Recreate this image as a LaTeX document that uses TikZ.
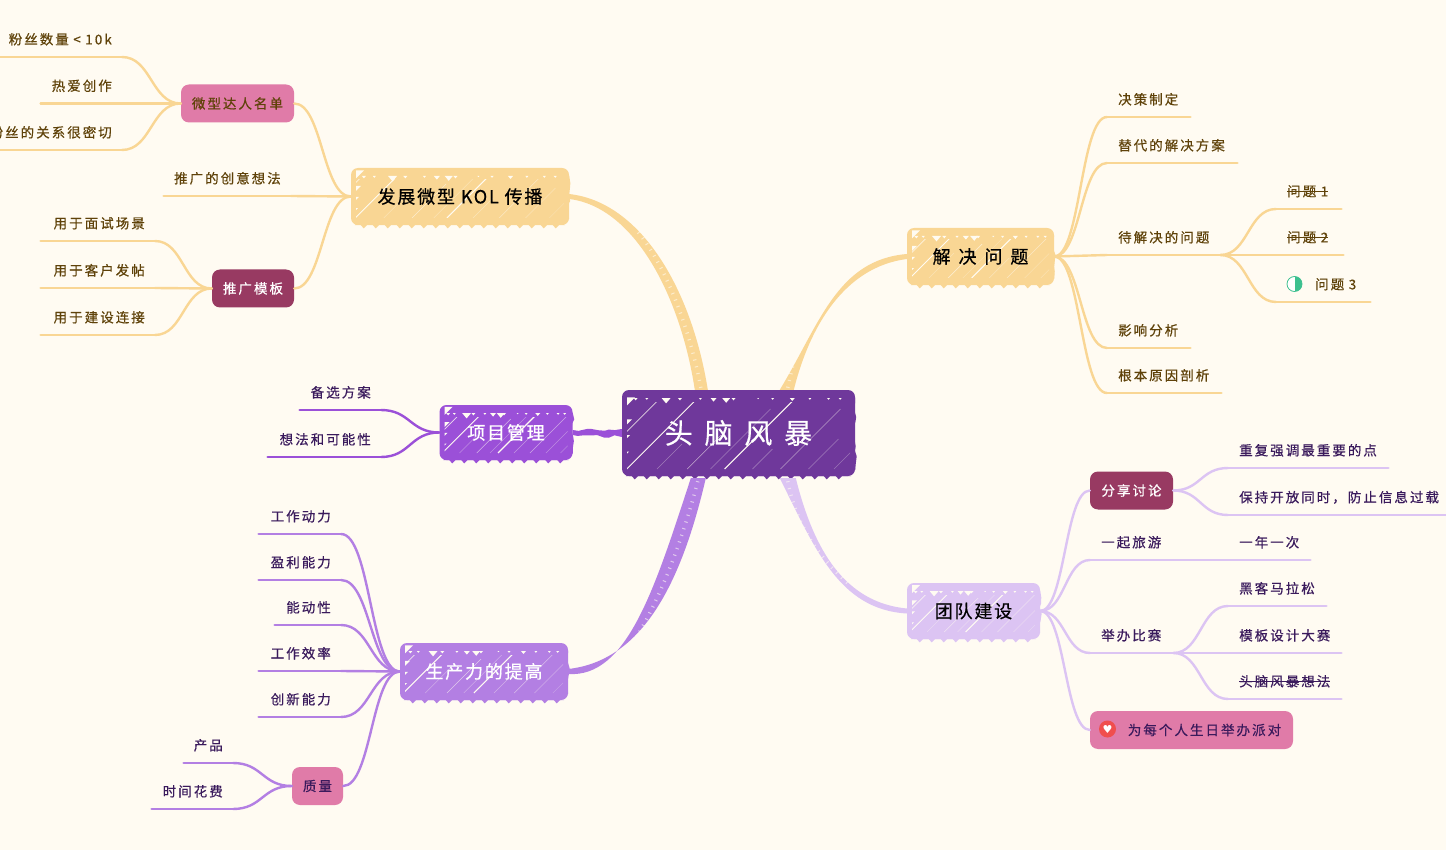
\documentclass[tikz,border=0pt]{standalone}
\usepackage{fontspec}
\usepackage{xcolor}
\setmainfont{Noto Sans CJK SC}[FakeBold=0.5]
\newfontfamily\symbolfont{DejaVu Sans}
\usetikzlibrary{positioning,calc,decorations.pathmorphing}
\definecolor{bgcream}{HTML}{FFFBF2}
\definecolor{rootpurple}{HTML}{6F389B}
\definecolor{midpurple}{HTML}{9B50D8}
\definecolor{softpurple}{HTML}{B37FE3}
\definecolor{palepurple}{HTML}{DCC4F3}
\definecolor{softyellow}{HTML}{F9D694}
\definecolor{tagpink}{HTML}{E07BA8}
\definecolor{tagmaroon}{HTML}{983A62}
\definecolor{inkbrown}{HTML}{5F4209}
\definecolor{inkpurple}{HTML}{3A1A5C}
\definecolor{halfgreen}{HTML}{3CC08F}
\definecolor{heartred}{HTML}{F04E4E}
\newcommand{\strikeit}[1]{\setbox0\hbox{#1}\rlap{\rule[0.32em]{\wd0}{1.1pt}}\box0}
\newcommand{\leaffont}{\fontsize{13.5}{16}\selectfont\addfontfeature{LetterSpace=15}}
\newcommand{\boxfont}{\fontsize{18}{22}\selectfont\addfontfeature{LetterSpace=10}}
\newcommand{\limb}[3]{\draw[#1, thinline] (#2) .. controls ($(#2)!0.5!(#2 -| #3)$) and ($(#3)!0.5!(#3 -| #2)$) .. (#3);}
\tikzset{
  hatched/.style={path picture={
    \begin{scope}[sharp corners]
    \begin{scope}
    \clip ($(path picture bounding box.south west)+(5,-7)$) rectangle ($(path picture bounding box.north east)+(-5,12)$);
    \foreach \f/\o/\w/\l in {0.02/1/0.9/90,0.15/0.35/0.5/25,0.28/0.6/0.6/34,0.44/1/1.1/90,0.38/0.35/0.5/60,0.56/0.4/0.5/20,0.68/0.5/0.6/60,0.80/0.35/0.5/30,0.91/0.3/0.5/20,-0.14/0.8/0.7/90}
      \draw[bgcream, opacity=\o, line width=\w pt] ($(path picture bounding box.south west)!\f!(path picture bounding box.south east)+(0,-7)$) -- ++(\l,-\l);
    \end{scope}
    \foreach \f/\s in {0.05/4,0.10/3,0.17/9,0.24/4,0.33/3,0.38/6,0.43/8,0.47/4,0.58/2,0.64/3,0.72/5,0.80/3,0.88/3,0.93/3}
      \fill[bgcream] ($(path picture bounding box.north west)!\f!(path picture bounding box.north east)+(0,8)$) -- ++(\s,0) -- ++(-0.5*\s,0.6*\s) -- cycle;
    \foreach \f/\s in {0.18/8,0.40/5,0.56/3,0.74/2}
      \fill[bgcream] ($(path picture bounding box.north west)!\f!(path picture bounding box.south west)+(5,0)$) -- ++(\s,-\s) -- ++(-\s,0) -- cycle;
    \end{scope}}},
  sketchbox/.style={rounded corners=7pt, inner sep=0pt, hatched},
  plainbox/.style={rounded corners=8pt, inner sep=0pt, minimum height=38, font=\leaffont},
  teeth/.style={decorate, decoration={zigzag,segment length=12pt,amplitude=3.2pt}},
  rough/.style={decorate, decoration={random steps,segment length=6pt,amplitude=1.6pt}},
  rightleaf/.style={anchor=south west, inner ysep=0pt, inner xsep=11pt, minimum height=35, align=left, font=\leaffont},
  leftleaf/.style={anchor=south east, inner ysep=0pt, inner xsep=10pt, minimum height=35, align=right, font=\leaffont},
  thinline/.style={line width=2.4pt, line cap=round},
  speckle/.style={bgcream, opacity=0.6, line width=3.5pt, dash pattern=on 1pt off 6pt}
}
\begin{document}
\begin{tikzpicture}[x=1pt, y=-1pt]
\useasboundingbox (0,0) rectangle (1446,850);
\fill[bgcream] (0,0) rectangle (1446,850);

% big boxes
\node[sketchbox, fill=rootpurple, minimum width=233, minimum height=86, text=white, font=\fontsize{28}{32}\selectfont\addfontfeature{LetterSpace=42}] (root) at (738.5,433) {头脑风暴};
\node[sketchbox, fill=softyellow, minimum width=218, minimum height=57, text=black, font=\boxfont] (promo) at (460,196.5) {发展微型 KOL 传播};
\node[sketchbox, fill=softyellow, minimum width=147, minimum height=57, text=black, font=\fontsize{18}{22}\selectfont\addfontfeature{LetterSpace=44}] (solve) at (980.5,256.5) {解决问题};
\node[sketchbox, fill=palepurple, minimum width=133, minimum height=56, text=black, font=\boxfont] (team) at (973.5,611) {团队建设};
\node[sketchbox, fill=midpurple, minimum width=133, minimum height=55, text=white, font=\boxfont] (pm) at (506,432.5) {项目管理};
\node[sketchbox, fill=softpurple, minimum width=168, minimum height=57, text=white, font=\boxfont] (prod) at (484,671.5) {生产力的提高};
\foreach \nm/\col in {root/rootpurple,promo/softyellow,solve/softyellow,team/palepurple,pm/midpurple,prod/softpurple} {
  \fill[\col, teeth] ($(\nm.south west)+(4,0)$) -- ($(\nm.south east)+(-4,0)$);
  \fill[\col, rough] ($(\nm.north east)+(0,8)$) -- ($(\nm.south east)+(0,-6)$) -- ($(\nm.south east)+(-4,-6)$) -- ($(\nm.north east)+(-4,8)$) -- cycle;
}

% small tags
\node[plainbox, fill=tagpink, minimum width=113, text=inkbrown] (micro) at (237.5,103.5) {微型达人名单};
\node[plainbox, fill=tagmaroon, minimum width=82, text=white] (tmpl) at (253,288.5) {推广模板};
\node[plainbox, fill=tagmaroon, minimum width=83, text=white] (share) at (1131.5,490.5) {分享讨论};
\node[plainbox, fill=tagpink, minimum width=51, text=inkpurple] (quality) at (317.5,786) {质量};
\node[plainbox, fill=tagpink, minimum width=203, text=inkpurple, align=left] (party) at (1191.5,730) {\hspace*{26pt}为每个人生日举办派对};
\node[circle, fill=heartred, inner sep=0pt, minimum size=17, text=white, font=\symbolfont\fontsize{11}{11}\selectfont] (heart) at (1107.5,729) {♥};

% left leaves
\foreach \nm/\xa/\xb/\yy/\txt in {fans/-40/122/57/粉丝数量~<~10k,passion/41/122/103.5/热爱创作,close/-40/122/150/粉丝的关系很密切,idea/164/291/196/推广的创意想法,interview/41/155/241/用于面试场景,post/41/155/288/用于客户发帖,linking/41/155/335/用于建设连接} {
  \pgfmathsetmacro\tw{\xb-\xa-20}
  \node[leftleaf, text=inkbrown, text width=\tw pt] (\nm) at (\xb,\yy) {\txt};
  \draw[softyellow, thinline] (\nm.south west) -- (\nm.south east);
}
\foreach \nm/\xa/\xb/\yy/\txt in {motive/259/341/534/工作动力,profit/259/341/580/盈利能力,drive/275/341/625/能动性,effic/259/341/671/工作效率,innov/259/341/717/创新能力,product/184/233/763/产品,timecost/152/233/809/时间花费} {
  \pgfmathsetmacro\tw{\xb-\xa-20}
  \node[leftleaf, text=inkpurple, text width=\tw pt] (\nm) at (\xb,\yy) {\txt};
  \draw[softpurple, thinline] (\nm.south west) -- (\nm.south east);
}
\foreach \nm/\xa/\xb/\yy/\txt in {backup/300/381/410/备选方案,maybe/268/381/457/想法和可能性} {
  \pgfmathsetmacro\tw{\xb-\xa-20}
  \node[leftleaf, text=inkpurple, text width=\tw pt] (\nm) at (\xb,\yy) {\txt};
  \draw[midpurple, thinline] (\nm.south west) -- (\nm.south east);
}

% right leaves
\foreach \nm/\xa/\xb/\yy/\txt in {decide/1107/1190/117/决策制定,altern/1107/1237/163/替代的解决方案,open/1107/1220/255/待解决的问题,impact/1107/1190/348/影响分析,cause/1107/1221/393/根本原因剖析,issuea/1276/1341/209/{\strikeit{问题~1}},issueb/1276/1343/255/{\strikeit{问题~2}},issuec/1276/1370/302/{\hspace*{28pt}问题~3}} {
  \pgfmathsetmacro\tw{\xb-\xa-22}
  \node[rightleaf, text=inkbrown, text width=\tw pt] (\nm) at (\xa,\yy) {\txt};
  \draw[softyellow, thinline] (\nm.south west) -- (\nm.south east);
}
\foreach \nm/\xa/\xb/\yy/\txt in {repeat/1228/1388/468/重复强调最重要的点,overload/1228/1500/515/保持开放同时，防止信息过载,trip/1090/1173/560/一起旅游,yearly/1228/1310/560/一年一次,hack/1228/1326/606/黑客马拉松,contest/1090/1173/653/举办比赛,design/1228/1341/653/模板设计大赛,storm/1228/1341/699/{\strikeit{头脑风暴想法}}} {
  \pgfmathsetmacro\tw{\xb-\xa-22}
  \node[rightleaf, text=inkpurple, text width=\tw pt] (\nm) at (\xa,\yy) {\txt};
  \draw[palepurple, thinline] (\nm.south west) -- (\nm.south east);
}
\node[circle, draw=halfgreen, fill=white, line width=0.8pt, inner sep=0pt, minimum size=15, path picture={\fill[halfgreen] (path picture bounding box.north) rectangle (path picture bounding box.south east);}] (halficon) at (1294.5,284) {};

% thin connectors
\foreach \a/\b in {micro/fans,micro/passion,micro/close,tmpl/interview,tmpl/post,tmpl/linking}
  {\limb{softyellow}{\a.west}{\b.south east}}
\foreach \a in {micro,tmpl}
  {\limb{softyellow}{promo.west}{\a.east}}
\limb{softyellow}{idea.south east}{promo.west}
\foreach \b in {decide,altern,open,impact,cause}
  {\limb{softyellow}{solve.east}{\b.south west}}
\foreach \b in {issuea,issueb,issuec}
  {\limb{softyellow}{open.south east}{\b.south west}}
\foreach \b in {motive,profit,drive,effic,innov}
  {\limb{softpurple}{prod.west}{\b.south east}}
\limb{softpurple}{prod.west}{quality.east}
\foreach \b in {product,timecost}
  {\limb{softpurple}{quality.west}{\b.south east}}
\foreach \b in {backup,maybe}
  {\limb{midpurple}{pm.west}{\b.south east}}
\foreach \b in {share,party}
  {\limb{palepurple}{team.east}{\b.west}}
\foreach \b in {trip,contest}
  {\limb{palepurple}{team.east}{\b.south west}}
\foreach \b in {repeat,overload}
  {\limb{palepurple}{share.east}{\b.south west}}
\draw[palepurple, thinline] (trip.south east) -- (yearly.south west);
\foreach \b in {hack,design,storm}
  {\limb{palepurple}{contest.south east}{\b.south west}}

% thick connectors into the root
\coordinate (rootya) at ($(root.north west)+(73,0)$);
\coordinate (rootyb) at ($(root.north west)+(86,0)$);
\coordinate (rootyc) at ($(root.north west)+(158,0)$);
\coordinate (rootyd) at ($(root.north west)+(172,0)$);
\coordinate (rootpa) at ($(root.south west)+(69,2)$);
\coordinate (rootpb) at ($(root.south west)+(84,2)$);
\coordinate (rootta) at ($(root.south west)+(158,2)$);
\coordinate (roottb) at ($(root.south west)+(174,2)$);
\fill[softyellow] ($(promo.east)+(0,-2.5)$) .. controls +(72,8) and +(-16,-100) .. (rootyb) -- (rootya) .. controls +(-14,-92) and +(66,8) .. ($(promo.east)+(0,2.5)$) -- cycle;
\fill[softyellow] ($(solve.west)+(0,-2.5)$) .. controls +(-70,6) and +(40,-66) .. (rootya -| rootyc) -- (rootyd) .. controls +(16,-64) and +(-62,8) .. ($(solve.west)+(0,2.5)$) -- cycle;
\fill[palepurple] ($(team.west)+(0,2.5)$) .. controls +(-68,-4) and +(35,70) .. (rootta) -- (roottb) .. controls +(18,72) and +(-62,-6) .. ($(team.west)+(0,-2.5)$) -- cycle;
\fill[softpurple] ($(prod.east)+(0,-2.5)$) .. controls +(71,-8) and +(-26,112) .. (rootpb) -- (rootpa) .. controls +(-36,110) and +(59,4) .. ($(prod.east)+(0,2.5)$) -- cycle;
\fill[midpurple, rough] ($(root.west)+(0,-4)$) -- ($(pm.east)+(0,-2.5)$) -- ($(pm.east)+(0,2.5)$) -- ($(root.west)+(0,4)$) -- cycle;
\draw[speckle] (rootyc) ++(8,-2) .. controls (800,330) and (812,300) .. (826,282);
\draw[speckle] (rootya) ++(6,-2) .. controls (692,340) and (670,270) .. (635,228);
\draw[speckle] (rootta) ++(8,3) .. controls (795,520) and (815,555) .. (850,585);
\draw[speckle] (rootpa) ++(7,3) .. controls (685,530) and (665,590) .. (635,640);
\end{tikzpicture}
\end{document}
